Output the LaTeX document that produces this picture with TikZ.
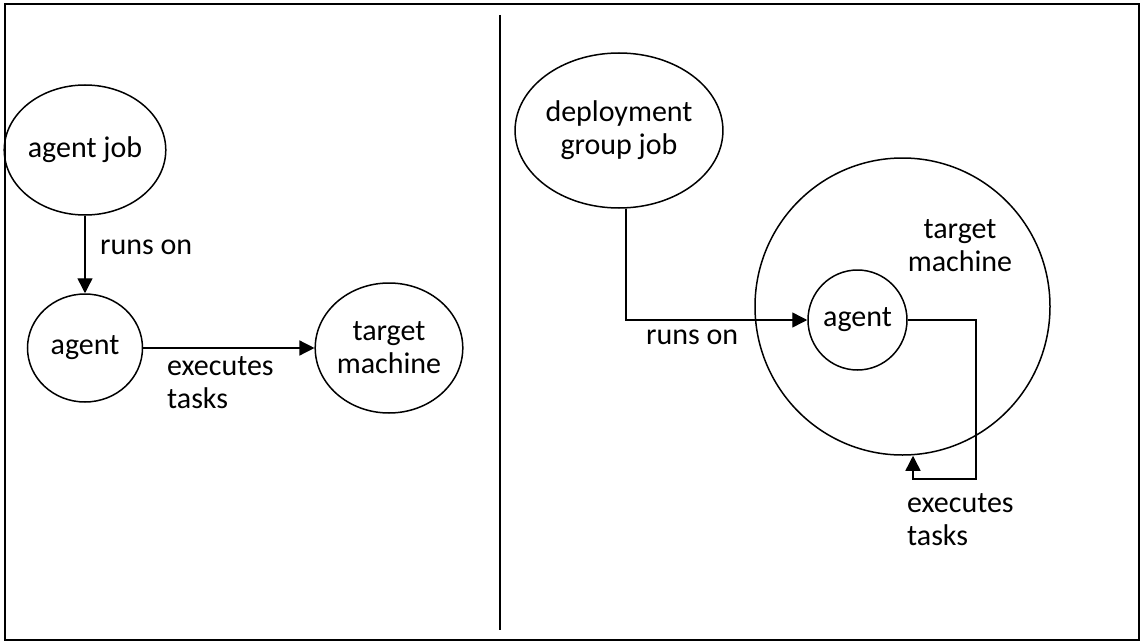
\documentclass[tikz,border=0pt]{standalone}
\usepackage{fontspec}
\setmainfont{Carlito}
\usetikzlibrary{shapes.geometric,arrows.meta}
\tikzset{
  bubble/.style={draw, ellipse, inner sep=0pt, line width=1.5pt},
  conn/.style={line width=1.4pt},
  arr/.style={conn, -{Triangle[length=15pt,width=15pt]}},
  lbl/.style={font=\fontsize{30}{33}\selectfont, inner sep=0pt, align=left},
  ctext/.style={font=\fontsize{30}{33}\selectfont, align=center},
}
\begin{document}
\begin{tikzpicture}[x=1pt,y=-1pt]
\useasboundingbox (0,0) rectangle (1141,642);
\draw[line width=2.6pt] (5,4) rectangle (1139,640);
\coordinate (dtop) at (500,15);
\coordinate (dbot) at (500,630);
\draw[line width=1.4pt] (dtop) -- (dbot);
% left panel
\node[bubble, minimum width=139pt, minimum height=130pt, ctext] (ajob) at (85,150) {agent job};
\node[bubble, minimum width=115pt, minimum height=108pt, ctext] (agentL) at (85,348) {agent};
\node[bubble, minimum width=136pt, minimum height=130pt, ctext] (tmL) at (389,348) {target\\machine};
\draw[arr] (ajob) -- (agentL);
\node[lbl, anchor=west] (runsL) at (100,247) {runs on};
\draw[arr] (agentL) -- (tmL);
\node[lbl, anchor=west] (execL) at (167,383) {executes\\tasks};
% right panel
\node[bubble, minimum width=168pt, minimum height=155pt, ctext] (dgj) at (619,130.5) {deployment\\group job};
\node[bubble, minimum width=295pt, minimum height=297pt] (tmR) at (902.5,306.5) {};
\node[ctext, inner sep=0pt] (tmRtext) at (960,246) {target\\machine};
\node[bubble, minimum width=99pt, minimum height=100pt, ctext] (agentR) at (857.5,320) {agent};
\draw[arr] ([xshift=7pt]dgj.south) |- (agentR.west);
\node[lbl, anchor=west] (runsR) at (646,337) {runs on};
\coordinate (loopc) at (976,479);
\draw[arr] (agentR.east) -| (loopc) -| ([xshift=10.5pt]tmR.south);
\node[lbl, anchor=west] (execR) at (907,520) {executes\\tasks};
\end{tikzpicture}
\end{document}
